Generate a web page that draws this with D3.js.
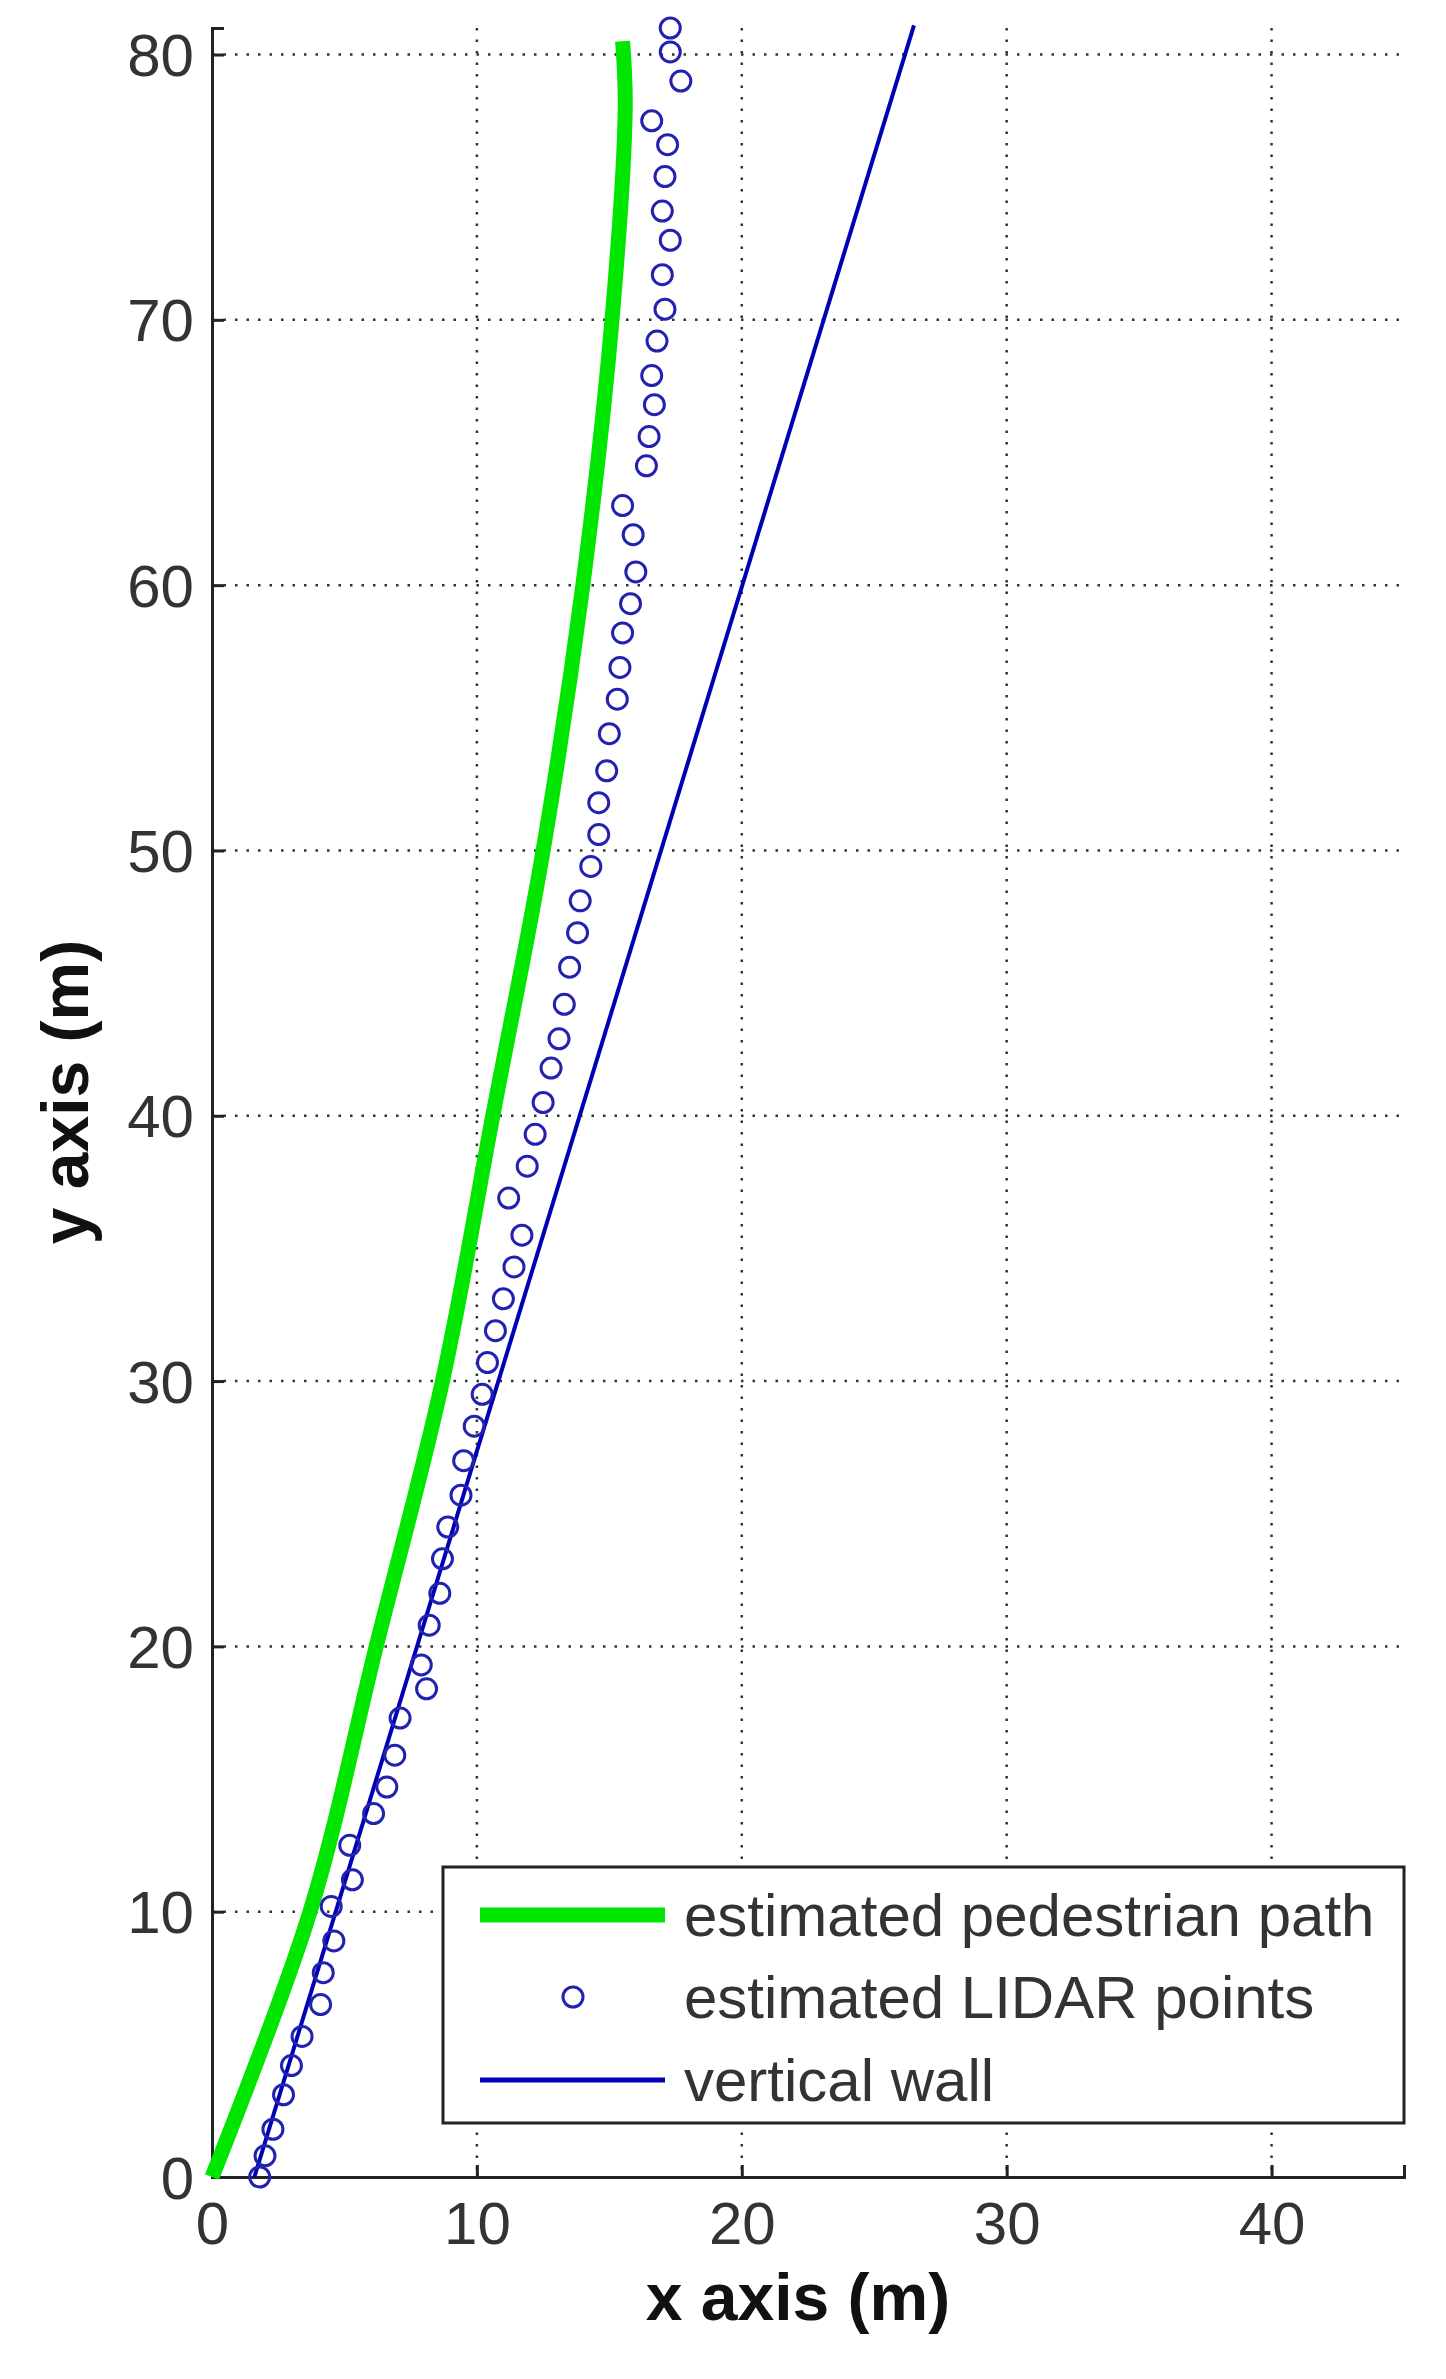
<!DOCTYPE html>
<html><head><meta charset="utf-8">
<script src="https://cdn.jsdelivr.net/npm/d3@7"></script>
<style>body{margin:0;background:#fff}svg{display:block}text{font-family:"Liberation Sans",Arial,sans-serif}</style>
</head><body>
<script>
const xTicks=[0,10,20,30,40];
const yTicks=[0,10,20,30,40,50,60,70,80];
const pathX=[0,3.7,6.2,8.7,10.6,12.5,14.0,15.1,15.6,15.5];
const pathY=[0,10,20,30,40,50,60,70,78,80.5];
const lidarX=[1.8,2.0,2.3,2.7,3.0,3.4,4.1,4.2,4.6,4.5,5.3,5.2,6.1,6.6,6.9,7.1,8.1,7.9,8.2,8.6,8.7,8.9,9.4,9.5,9.9,10.2,10.4,10.7,11.0,11.4,11.7,11.2,11.9,12.2,12.5,12.8,13.1,13.3,13.5,13.8,13.9,14.3,14.6,14.6,14.9,15.0,15.3,15.4,15.5,15.8,16.0,15.9,15.5,16.4,16.5,16.7,16.6,16.8,17.1,17.0,17.3,17.0,17.1,17.2,16.6,17.7,17.3,17.3];
const lidarY=[0,0.8,1.8,3.1,4.2,5.3,6.5,7.7,8.9,10.2,11.2,12.5,13.7,14.7,15.9,17.3,18.4,19.3,20.8,22.0,23.3,24.5,25.7,27.0,28.3,29.5,30.7,31.9,33.1,34.3,35.5,36.9,38.1,39.3,40.5,41.8,42.9,44.2,45.6,46.9,48.1,49.4,50.6,51.8,53.0,54.4,55.7,56.9,58.2,59.3,60.5,61.9,63.0,64.5,65.6,66.8,67.9,69.2,70.4,71.7,73.0,74.1,75.4,76.6,77.5,79.0,80.1,81.0];
const wallX=[1.6,26.5];
const wallY=[0,81.1];
const legendLabels=["estimated pedestrian path","estimated LIDAR points","vertical wall"];

const W=1446,H=2379;
const svg=d3.select("body").append("svg").attr("width",W).attr("height",H);
const x=d3.scaleLinear().domain([0,45]).range([212,1404]);
const y=d3.scaleLinear().domain([0,81]).range([2177,28]);

svg.append("g").selectAll("line").data(xTicks.filter(d=>d>0)).join("line")
 .attr("x1",d=>x(d)).attr("x2",d=>x(d)).attr("y1",y(81)).attr("y2",y(0))
 .attr("stroke","#333").attr("stroke-width",2.5).attr("stroke-dasharray","2.5,9");
svg.append("g").selectAll("line").data(yTicks.filter(d=>d>0)).join("line")
 .attr("y1",d=>y(d)).attr("y2",d=>y(d)).attr("x1",x(0)).attr("x2",x(45))
 .attr("stroke","#333").attr("stroke-width",2.5).attr("stroke-dasharray","2.5,9");

const xa=svg.append("g").attr("transform",`translate(0,${y(0)})`)
 .call(d3.axisBottom(x).tickValues(xTicks).tickSize(-12).tickPadding(24).tickFormat(d3.format("d")));
const ya=svg.append("g").attr("transform",`translate(${x(0)},0)`)
 .call(d3.axisLeft(y).tickValues(yTicks).tickSize(-12).tickPadding(18).tickFormat(d3.format("d")));
[xa,ya].forEach(a=>{a.select(".domain").attr("stroke","#222").attr("stroke-width",3);
 a.selectAll(".tick line").attr("stroke","#222").attr("stroke-width",3);
 a.selectAll("text").attr("font-size",60).attr("fill","#333").attr("font-family","Liberation Sans, Arial");});
ya.selectAll("text").attr("dy","0.35em");
xa.selectAll("text").attr("dy","0.71em");

const green=d3.line().curve(d3.curveCatmullRom).x((d,i)=>x(pathX[i])).y((d,i)=>y(pathY[i]));
svg.append("path").attr("d",green(pathX)).attr("fill","none").attr("stroke","#00e600").attr("stroke-width",15).attr("stroke-linejoin","round");
svg.append("path").attr("d",d3.line().x((d,i)=>x(wallX[i])).y((d,i)=>y(wallY[i]))(wallX))
 .attr("fill","none").attr("stroke","#0000b4").attr("stroke-width",4);
svg.append("g").selectAll("circle").data(lidarX).join("circle")
 .attr("cx",d=>x(d)).attr("cy",(d,i)=>y(lidarY[i])).attr("r",10)
 .attr("fill","none").attr("stroke","#2222b0").attr("stroke-width",3);

const lg=svg.append("g");
lg.append("rect").attr("x",443).attr("y",1867).attr("width",961).attr("height",256)
 .attr("fill","#fff").attr("stroke","#222").attr("stroke-width",3);
const rows=[1915,1997,2080];
lg.append("line").attr("x1",480).attr("x2",665).attr("y1",rows[0]).attr("y2",rows[0]).attr("stroke","#00e600").attr("stroke-width",15);
lg.append("circle").attr("cx",573).attr("cy",rows[1]).attr("r",10).attr("fill","none").attr("stroke","#2222b0").attr("stroke-width",3);
lg.append("line").attr("x1",480).attr("x2",665).attr("y1",rows[2]).attr("y2",rows[2]).attr("stroke","#0000b4").attr("stroke-width",5);
lg.selectAll("text.l").data(legendLabels).join("text").attr("class","l")
 .attr("x",684).attr("y",(d,i)=>rows[i]).attr("dy","0.35em").attr("font-size",60).attr("fill","#333").text(d=>d);

svg.append("text").attr("x",798).attr("y",2320).attr("text-anchor","middle").attr("font-size",66).attr("font-weight","bold").attr("fill","#111").text("x axis (m)");
svg.append("text").attr("transform","translate(88,1092) rotate(-90)").attr("text-anchor","middle").attr("font-size",66).attr("font-weight","bold").attr("fill","#111").text("y axis (m)");
</script>
</body></html>
